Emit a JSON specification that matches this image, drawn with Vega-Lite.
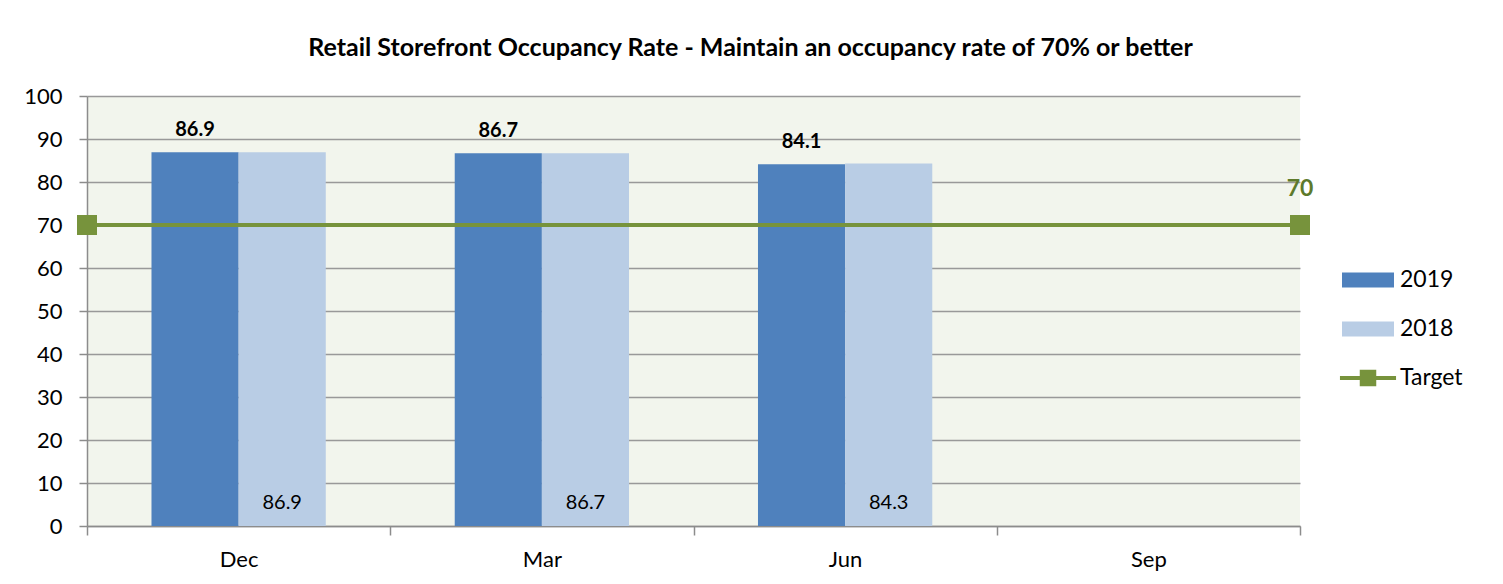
{
  "$schema": "https://vega.github.io/schema/vega-lite/v6.json",
  "autosize": "none",
  "width": 1213,
  "height": 430,
  "padding": {"left": 87, "top": 96, "right": 203, "bottom": 58},
  "background": "white",
  "title": {
    "text": "Retail Storefront Occupancy Rate - Maintain an occupancy rate of 70% or better",
    "font": "Lato",
    "fontSize": 25,
    "fontWeight": "bold",
    "color": "black",
    "anchor": "middle",
    "dx": 57,
    "offset": 24
  },
  "config": {
    "font": "Lato",
    "view": {"fill": "#f2f5ed", "stroke": null},
    "axis": {
      "labelFont": "Lato",
      "labelFontSize": 22,
      "labelColor": "black",
      "domainColor": "#8c8c8c",
      "tickColor": "#8c8c8c",
      "gridColor": "#999999",
      "domainWidth": 1.5,
      "tickWidth": 1.5,
      "gridWidth": 1.5
    }
  },
  "datasets": {
    "bars": [
      {"month": "Dec", "series": "2019", "value": 86.9},
      {"month": "Dec", "series": "2018", "value": 86.9},
      {"month": "Mar", "series": "2019", "value": 86.7},
      {"month": "Mar", "series": "2018", "value": 86.7},
      {"month": "Jun", "series": "2019", "value": 84.1},
      {"month": "Jun", "series": "2018", "value": 84.3}
    ],
    "target": [
      {"pos": 0, "v": 70, "series": "Target"},
      {"pos": 1, "v": 70, "series": "Target"}
    ]
  },
  "resolve": {"scale": {"x": "independent"}, "axis": {"x": "independent"}},
  "layer": [
    {
      "data": {"name": "bars"},
      "encoding": {
        "x": {
          "field": "month",
          "type": "nominal",
          "sort": null,
          "scale": {"domain": ["Dec", "Mar", "Jun", "Sep"], "paddingInner": 0, "paddingOuter": 0},
          "axis": {
            "title": null,
            "labelAngle": 0,
            "tickBand": "extent",
            "tickSize": 9,
            "labelPadding": 14,
            "grid": false
          }
        },
        "xOffset": {
          "field": "series",
          "type": "nominal",
          "scale": {"domain": ["2019", "2018"], "paddingInner": 0, "paddingOuter": 0.74}
        },
        "y": {
          "field": "value",
          "type": "quantitative",
          "scale": {"domain": [0, 100], "nice": false},
          "axis": {
            "title": null,
            "values": [0, 10, 20, 30, 40, 50, 60, 70, 80, 90, 100],
            "tickSize": 8,
            "labelPadding": 17,
            "grid": true
          }
        }
      },
      "layer": [
        {
          "mark": {"type": "bar"},
          "encoding": {
            "color": {
              "field": "series",
              "type": "nominal",
              "scale": {"domain": ["2019", "2018", "Target"], "range": ["#4f81bd", "#b9cde5", "#77933c"]},
              "legend": {
                "title": null,
                "orient": "none",
                "legendX": 1266,
                "legendY": 169,
                "padding": 0,
                "labelFont": "Lato",
                "labelFontSize": 23,
                "labelColor": "black",
                "symbolSize": 900,
                "rowPadding": 22,
                "labelOffset": 17,
                "symbolStrokeWidth": 0,
                "encode": {
                  "symbols": {
                    "update": {
                      "shape": {"signal": "datum.value === 'Target' ? 'M-1.87,-0.14H1.87V0.14H-1.87Z M-0.55,-0.55H0.55V0.55H-0.55Z' : 'M-1.733,-0.5H1.733V0.5H-1.733Z'"},
                      "fill": {"scale": "color", "field": "value"},
                      "fillOpacity": {"value": 1},
                      "strokeWidth": {"value": 0}
                    }
                  }
                }
              }
            }
          }
        },
        {
          "transform": [{"filter": "datum.series === '2019'"}],
          "mark": {"type": "text", "fontWeight": "bold", "fontSize": 20, "baseline": "alphabetic", "dy": -16, "color": "black"},
          "encoding": {
            "text": {"field": "value", "type": "quantitative", "format": ".1f"}
          }
        },
        {
          "transform": [{"filter": "datum.series === '2018'"}],
          "mark": {"type": "text", "fontSize": 20, "baseline": "alphabetic", "dy": -17, "color": "black"},
          "encoding": {
            "y": {"datum": 0, "type": "quantitative"},
            "text": {"field": "value", "type": "quantitative", "format": ".1f"}
          }
        }
      ]
    },
    {
      "data": {"name": "target"},
      "encoding": {
        "x": {
          "field": "pos",
          "type": "quantitative",
          "scale": {"domain": [0, 1], "nice": false, "zero": false},
          "axis": null
        },
        "y": {"field": "v", "type": "quantitative"}
      },
      "layer": [
        {
          "mark": {"type": "line", "strokeWidth": 4, "point": {"shape": "square", "size": 400, "filled": true, "opacity": 1}},
          "encoding": {
            "color": {"field": "series", "type": "nominal"}
          }
        },
        {
          "transform": [{"filter": "datum.pos === 1"}],
          "mark": {"type": "text", "fontWeight": "bold", "fontSize": 23, "baseline": "alphabetic", "dy": -29, "color": "#5e7a2b"},
          "encoding": {
            "text": {"field": "v", "type": "quantitative"}
          }
        }
      ]
    }
  ]
}
